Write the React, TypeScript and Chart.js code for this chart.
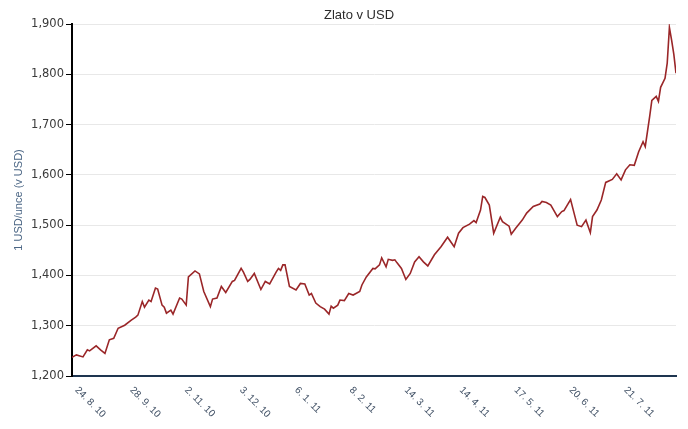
import React, { useEffect, useRef } from "react";
import { Chart, registerables } from "chart.js";

Chart.register(...registerables);

const chartTitle = "Zlato v USD";
const yAxisTitle = "1 USD/unce (v USD)";

const tickDays = [0, 25, 50, 75, 100, 125, 150, 175, 200, 225, 250];
const tickLabels = [
  "24. 8. 10", "28. 9. 10", "2. 11. 10", "3. 12. 10", "6. 1. 11", "8. 2. 11",
  "14. 3. 11", "14. 4. 11", "17. 5. 11", "20. 6. 11", "21. 7. 11",
];

const days = [
  0, 2, 5, 7, 8, 11, 13, 15, 17, 19, 21, 24, 27, 29, 30, 32, 33, 35, 36, 38, 39,
  41, 42, 43, 45, 46, 49, 50, 52, 53, 56, 58, 60, 63, 64, 66, 68, 70, 73, 74, 77,
  78, 80, 81, 83, 86, 88, 90, 93, 94, 95, 96, 97, 99, 102, 104, 106, 108, 109,
  111, 113, 115, 117, 118, 119, 121, 122, 124, 126, 128, 131, 132, 134, 137, 138,
  140, 141, 143, 144, 146, 147, 148, 150, 152, 154, 156, 158, 160, 162, 165, 168,
  171, 174, 176, 178, 181, 183, 184, 186, 187, 188, 190, 192, 195, 196, 199, 200,
  202, 205, 207, 210, 213, 214, 216, 218, 221, 223, 224, 227, 229, 230, 232, 234,
  236, 237, 239, 241, 243, 246, 248, 250, 252, 254, 256, 258, 260, 261, 263, 264,
  266, 267, 268, 270, 271, 272, 273, 274, 275,
];

const prices = [
  1237, 1242, 1238, 1252, 1250, 1260, 1252, 1245, 1272, 1275, 1295, 1301, 1311,
  1317, 1321, 1348, 1337, 1351, 1348, 1375, 1373, 1341, 1337, 1325, 1331, 1323,
  1355, 1353, 1341, 1397, 1409, 1403, 1368, 1338, 1353, 1355, 1378, 1366, 1388,
  1390, 1414, 1407, 1388, 1392, 1404, 1372, 1388, 1383, 1407, 1414, 1410, 1421,
  1421, 1378, 1371, 1384, 1383, 1361, 1364, 1345, 1338, 1333, 1323, 1339, 1335,
  1341, 1351, 1350, 1364, 1361, 1368, 1381, 1397, 1414, 1413, 1421, 1435, 1417,
  1432, 1430, 1431, 1425, 1414, 1392, 1404, 1427, 1437, 1427, 1419, 1441, 1457,
  1476, 1457, 1484, 1495, 1502, 1509, 1505, 1530, 1557, 1555, 1540, 1484, 1516,
  1507, 1498, 1482, 1494, 1510, 1524, 1537, 1542, 1547, 1545, 1540, 1517, 1527,
  1529, 1551, 1517, 1500, 1497, 1510, 1485, 1517, 1530, 1550, 1585, 1591, 1602,
  1590, 1610, 1620, 1619, 1646, 1666, 1656, 1716, 1748, 1756, 1746, 1774, 1792,
  1822, 1893, 1868, 1840, 1802,
];

const yMin = 1200;
const yMax = 1900;
const yStep = 100;

const overlayPlugin = {
  id: "overlay",
  afterDraw(chart: any) {
    const ctx = chart.ctx;
    const xs = chart.scales.x;
    const area = chart.chartArea;
    ctx.save();
    ctx.fillStyle = "#2b2b2b";
    ctx.font = "13px 'Liberation Sans', Arial, sans-serif";
    ctx.textAlign = "center";
    ctx.textBaseline = "middle";
    ctx.fillText(chartTitle, 359, 15);
    ctx.fillStyle = "#3e4e63";
    ctx.font = "10px 'Liberation Sans', Arial, sans-serif";
    ctx.textAlign = "left";
    ctx.textBaseline = "top";
    tickDays.forEach((d, i) => {
      const px = xs.getPixelForValue(d);
      ctx.save();
      ctx.translate(px + 8, area.bottom + 9);
      ctx.rotate(Math.PI / 4);
      ctx.fillText(tickLabels[i], 0, 0);
      ctx.restore();
    });
    ctx.restore();
  },
};

export default function App() {
  const ref = useRef<HTMLCanvasElement | null>(null);
  useEffect(() => {
    if (!ref.current) return;
    const chart = new Chart(ref.current, {
      type: "line",
      data: {
        datasets: [
          {
            data: days.map((d, i) => ({ x: d, y: prices[i] })),
            borderColor: "#9a2628",
            borderWidth: 1.6,
            pointRadius: 0,
            tension: 0,
            fill: false,
          },
        ],
      },
      options: {
        animation: false,
        responsive: false,
        layout: { padding: { top: 24, right: 12, left: 0, bottom: 0 } },
        plugins: { legend: { display: false }, title: { display: false }, tooltip: { enabled: false } },
        scales: {
          x: {
            type: "linear",
            min: 0,
            max: 275,
            ticks: { display: false },
            grid: { display: false },
            border: { display: true, color: "#1e3550", width: 2 },
            afterFit: (s: any) => { s.height = 53; },
          },
          y: {
            min: yMin,
            max: yMax,
            ticks: {
              stepSize: yStep,
              color: "#3a3a3a",
              font: { family: "'DejaVu Sans', Verdana, sans-serif", size: 11.5 },
              padding: 2,
              callback: (v: any) => Number(v).toLocaleString("en-US"),
            },
            grid: { color: "#e8e8e8", tickColor: "#000000", tickLength: 6, lineWidth: 1 },
            border: { display: true, color: "#000000", width: 2 },
            title: {
              display: true,
              text: yAxisTitle,
              color: "#4a6584",
              font: { family: "'Liberation Sans', Arial, sans-serif", size: 11 },
              padding: { top: 12, bottom: 0 },
            },
            afterFit: (s: any) => { s.width = 72; },
          },
        },
      },
      plugins: [overlayPlugin],
    });
    return () => chart.destroy();
  }, []);
  return (
    <div style={{ position: "fixed", left: 0, top: 0, width: 688, height: 429, background: "#ffffff" }}>
      <canvas ref={ref} width={688} height={429} style={{ width: 688, height: 429 }} />
    </div>
  );
}
